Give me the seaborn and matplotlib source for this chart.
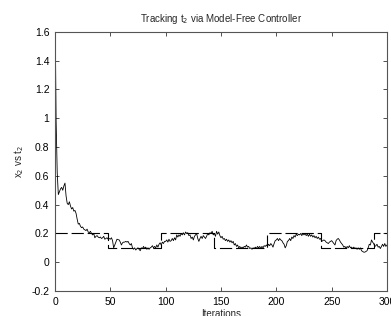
import numpy as np
import pandas as pd
import seaborn as sns
import matplotlib.pyplot as plt

# output x2, one value per iteration (0..300)
x2 = [
    1.8, 0.98, 0.62, 0.47, 0.49, 0.51, 0.52, 0.50, 0.53, 0.55,
    0.46, 0.41, 0.40, 0.42, 0.39, 0.37, 0.38, 0.355, 0.36, 0.34,
    0.30, 0.265, 0.27, 0.25, 0.24, 0.245, 0.23, 0.225, 0.22, 0.23,
    0.21, 0.205, 0.215, 0.20, 0.19, 0.20, 0.17, 0.18, 0.185, 0.175,
    0.17, 0.175, 0.165, 0.17, 0.18, 0.16, 0.165, 0.17, 0.16, 0.165,
    0.16, 0.17, 0.15, 0.10, 0.12, 0.14, 0.16, 0.157, 0.155, 0.14,
    0.12, 0.135, 0.14, 0.14, 0.145, 0.14, 0.145, 0.13, 0.12, 0.13,
    0.10, 0.09, 0.10, 0.085, 0.095, 0.10, 0.09, 0.08, 0.10, 0.095,
    0.11, 0.095, 0.105, 0.09, 0.10, 0.09, 0.10, 0.105, 0.115, 0.10,
    0.11, 0.10, 0.12, 0.105, 0.125, 0.135, 0.12, 0.14, 0.13, 0.145,
    0.145, 0.155, 0.14, 0.16, 0.145, 0.15, 0.165, 0.15, 0.17, 0.155,
    0.19, 0.175, 0.19, 0.18, 0.20, 0.19, 0.205, 0.19, 0.21, 0.20,
    0.205, 0.185, 0.19, 0.165, 0.175, 0.155, 0.18, 0.19, 0.20, 0.165,
    0.145, 0.165, 0.18, 0.165, 0.185, 0.175, 0.165, 0.18, 0.20, 0.19,
    0.205, 0.20, 0.215, 0.19, 0.20, 0.18, 0.215, 0.195, 0.21, 0.185,
    0.17, 0.18, 0.16, 0.165, 0.15, 0.16, 0.145, 0.155, 0.14, 0.15,
    0.135, 0.145, 0.12, 0.13, 0.11, 0.12, 0.10, 0.11, 0.095, 0.105,
    0.10, 0.11, 0.105, 0.12, 0.105, 0.11, 0.095, 0.10, 0.09, 0.10,
    0.095, 0.105, 0.095, 0.11, 0.10, 0.11, 0.095, 0.11, 0.10, 0.115,
    0.11, 0.12, 0.11, 0.125, 0.115, 0.13, 0.12, 0.105, 0.13, 0.15,
    0.155, 0.165, 0.15, 0.165, 0.155, 0.15, 0.135, 0.125, 0.10, 0.115,
    0.145, 0.15, 0.165, 0.15, 0.175, 0.165, 0.185, 0.175, 0.195, 0.185,
    0.195, 0.19, 0.20, 0.185, 0.20, 0.19, 0.20, 0.185, 0.195, 0.18,
    0.195, 0.18, 0.19, 0.175, 0.185, 0.17, 0.18, 0.165, 0.175, 0.16,
    0.165, 0.145, 0.15, 0.155, 0.15, 0.14, 0.135, 0.13, 0.14, 0.145,
    0.15, 0.14, 0.13, 0.12, 0.15, 0.16, 0.165, 0.155, 0.14, 0.13,
    0.12, 0.105, 0.11, 0.095, 0.11, 0.10, 0.115, 0.10, 0.105, 0.095,
    0.105, 0.095, 0.10, 0.09, 0.10, 0.09, 0.10, 0.08, 0.075, 0.07,
    0.07, 0.075, 0.08, 0.10, 0.125, 0.12, 0.155, 0.14, 0.13, 0.11,
    0.115, 0.125, 0.105, 0.11, 0.095, 0.11, 0.125, 0.11, 0.13, 0.11,
    0.12,
]

# reference t2: piecewise constant
ref_switch = [0, 48, 96, 144, 192, 240, 288, 300]
ref_level = [0.2, 0.1, 0.2, 0.1, 0.2, 0.1, 0.2, 0.2]

y_ticks = [-0.2, 0, 0.2, 0.4, 0.6, 0.8, 1, 1.2, 1.4, 1.6]
y_labels = ['-0.2', '0', '0.2', '0.4', '0.6', '0.8', '1', '1.2', '1.4', '1.6']
x_ticks = [0, 50, 100, 150, 200, 250, 300]

df = pd.DataFrame({'it': np.arange(len(x2)), 'x2': x2})
ref = pd.DataFrame({'it': ref_switch, 't2': ref_level})

sns.set_style('ticks', {'xtick.direction': 'in', 'ytick.direction': 'in'})
plt.rcParams['font.family'] = ['Liberation Sans', 'DejaVu Sans']

fig = plt.figure(figsize=(3.91, 3.16), dpi=100)
ax = fig.add_axes([0.1407, 0.079, 0.849, 0.820])

sns.lineplot(data=ref, x='it', y='t2', ax=ax, color='black', lw=0.8,
             drawstyle='steps-post', dashes=False, linestyle=(0, (11, 3.5)))
sns.lineplot(data=df, x='it', y='x2', ax=ax, color='black', lw=0.6)

ax.set_xlim(0, 300)
ax.set_ylim(-0.2, 1.6)
ax.set_xticks(x_ticks)
ax.set_yticks(y_ticks)
ax.set_yticklabels(y_labels)
ax.tick_params(top=True, right=True, direction='in', length=3, width=0.6,
               labelsize=7.5, pad=4, colors='#333333', labelcolor='black')
for s in ax.spines.values():
    s.set_linewidth(0.8)
    s.set_color('#555555')

ax.set_title('Tracking t$_2$ via Model-Free Controller', fontsize=7, pad=7)
ax.set_xlabel('Iterations', fontsize=7, labelpad=2)
ax.set_ylabel('x$_2$ vs t$_2$', fontsize=7, labelpad=4)

fig.savefig('out.png', dpi=100)
